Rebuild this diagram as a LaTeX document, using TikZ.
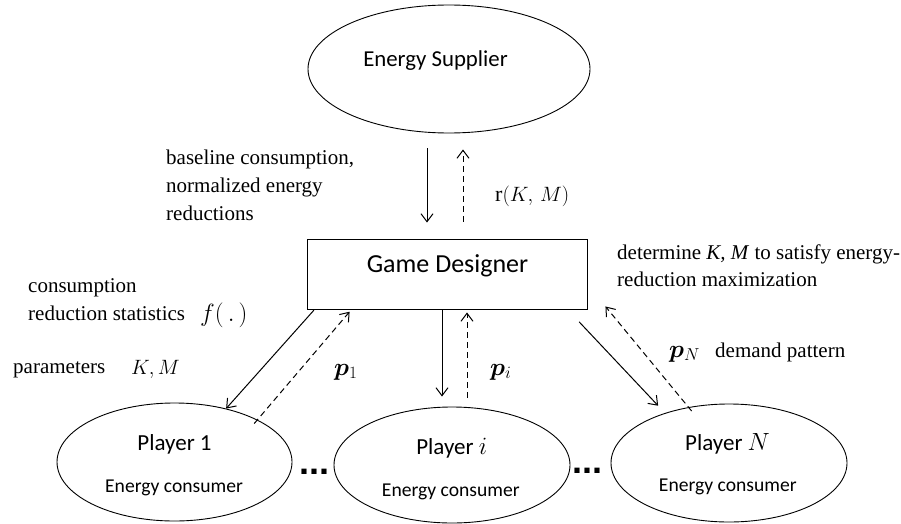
\documentclass[tikz,border=0pt]{standalone}
\usepackage{amsmath,bm}
\usepackage{fontspec}
\setmainfont{Liberation Serif}
\newfontfamily\carl{Carlito}
\newfontfamily\arialfont{Liberation Sans}
\usetikzlibrary{shapes.geometric,arrows.meta}
\tikzset{
  ell/.style={draw, ellipse, inner sep=0pt, line width=0.9pt},
  sarr/.style={-{Straight Barb[length=8pt,width=12pt]}, line width=1pt},
  darr/.style={sarr, dash pattern=on 6pt off 4pt},
  lbl/.style={inner sep=0pt, anchor=base west, font=\fontsize{21}{28}\selectfont, align=left},
  mlbl/.style={inner sep=0pt, anchor=base west, font=\fontsize{22}{28}\selectfont},
  ctext/.style={inner sep=0pt, anchor=base, font=\carl\fontsize{#1}{#1}\selectfont},
  dotstext/.style={inner sep=0pt, anchor=base, font=\arialfont\bfseries\fontsize{36}{36}\selectfont},
}
\begin{document}
\begin{tikzpicture}[x=1pt,y=-1pt]
\useasboundingbox (0,0) rectangle (901,524);
% nodes
\node[ell, minimum width=282pt, minimum height=128pt] (sup) at (449,69) {};
\node[ctext=22.8] (supt) at (435.5,67) {Energy Supplier};
\node[draw, line width=0.9pt, minimum width=280pt, minimum height=70pt, inner sep=0pt] (des) at (447,274) {};
\node[ctext=26] (dest) at (447.5,272.7) {Game Designer};
\node[ell, minimum width=235pt, minimum height=118pt] (p1) at (174.5,462) {};
\node[ell, minimum width=236pt, minimum height=116pt] (pi) at (452,465) {};
\node[ell, minimum width=236pt, minimum height=118pt] (pn) at (729,463) {};
\node[ctext=23] (p1t) at (174.5,450) {Player 1};
\node[ctext=19.6] (p1e) at (174,492.5) {Energy consumer};
\node[ctext=23] (pit) at (451.7,454) {Player $i$};
\node[ctext=19.6] (pie) at (450.8,496.5) {Energy consumer};
\node[ctext=23] (pnt) at (727.5,450.7) {Player $N$};
\node[ctext=19.6] (pne) at (727.8,491.7) {Energy consumer};
\node[dotstext] (dots1) at (314.5,474) {...};
\node[dotstext] (dots2) at (587.5,473) {...};
% labels
\node[lbl] (lbase) at (166,220) {baseline consumption,\\normalized energy\\reductions};
\node[mlbl] (lr) at (495,201) {$\mathrm{r}(K,\,M)$};
\node[lbl, font=\fontsize{21}{27.5}\selectfont] (ldet) at (617,286.7) {determine \textit{K, M} to satisfy energy-\\reduction maximization};
\node[lbl] (lcons) at (28,320.7) {consumption\\reduction statistics};
\node[mlbl, font=\fontsize{25}{28}\selectfont] (lf) at (200,321) {$f(\,.\,)$};
\node[lbl] (lpar) at (13,373) {parameters};
\node[mlbl] (lkm) at (131,374) {$K,M$};
\node[mlbl, font=\fontsize{24}{28}\selectfont] (lp1) at (334,375) {$\bm{p}_1$};
\node[mlbl, font=\fontsize{24}{28}\selectfont] (lpi) at (490,375) {$\bm{p}_i$};
\node[mlbl, font=\fontsize{24}{28}\selectfont] (lpn) at (669,357) {$\bm{p}_N$};
\node[lbl] (ldem) at (715,357) {demand pattern};
% connectors
\draw[sarr, shorten <=15pt, shorten >=16pt] ([xshift=-22pt]sup.south) -- ([xshift=-20pt]des.north);
\draw[darr, shorten <=17pt, shorten >=16pt] ([xshift=16pt]des.north) -- ([xshift=14pt]sup.south);
\draw[sarr, shorten <=1pt] ([xshift=8pt]des.south west) -- (p1.46);
\draw[darr, shorten <=-5pt, shorten >=3pt] (p1.27) -- ([xshift=45pt]des.south west);
\draw[sarr, shorten >=10pt] ([xshift=-5pt]des.south) -- ([xshift=-5pt]des.south |- pi.north);
\draw[darr, shorten <=9pt, shorten >=3pt] ([xshift=20pt]des.south |- pi.north) -- ([xshift=20pt]des.south);
\draw[sarr, shorten <=17pt, shorten >=10pt] ([xshift=-20pt]des.south east) -- (pn.142);
\draw[darr, shorten <=-5pt] (pn.126) -- ([shift={(18,-3)}]des.south east);
\end{tikzpicture}
\end{document}
